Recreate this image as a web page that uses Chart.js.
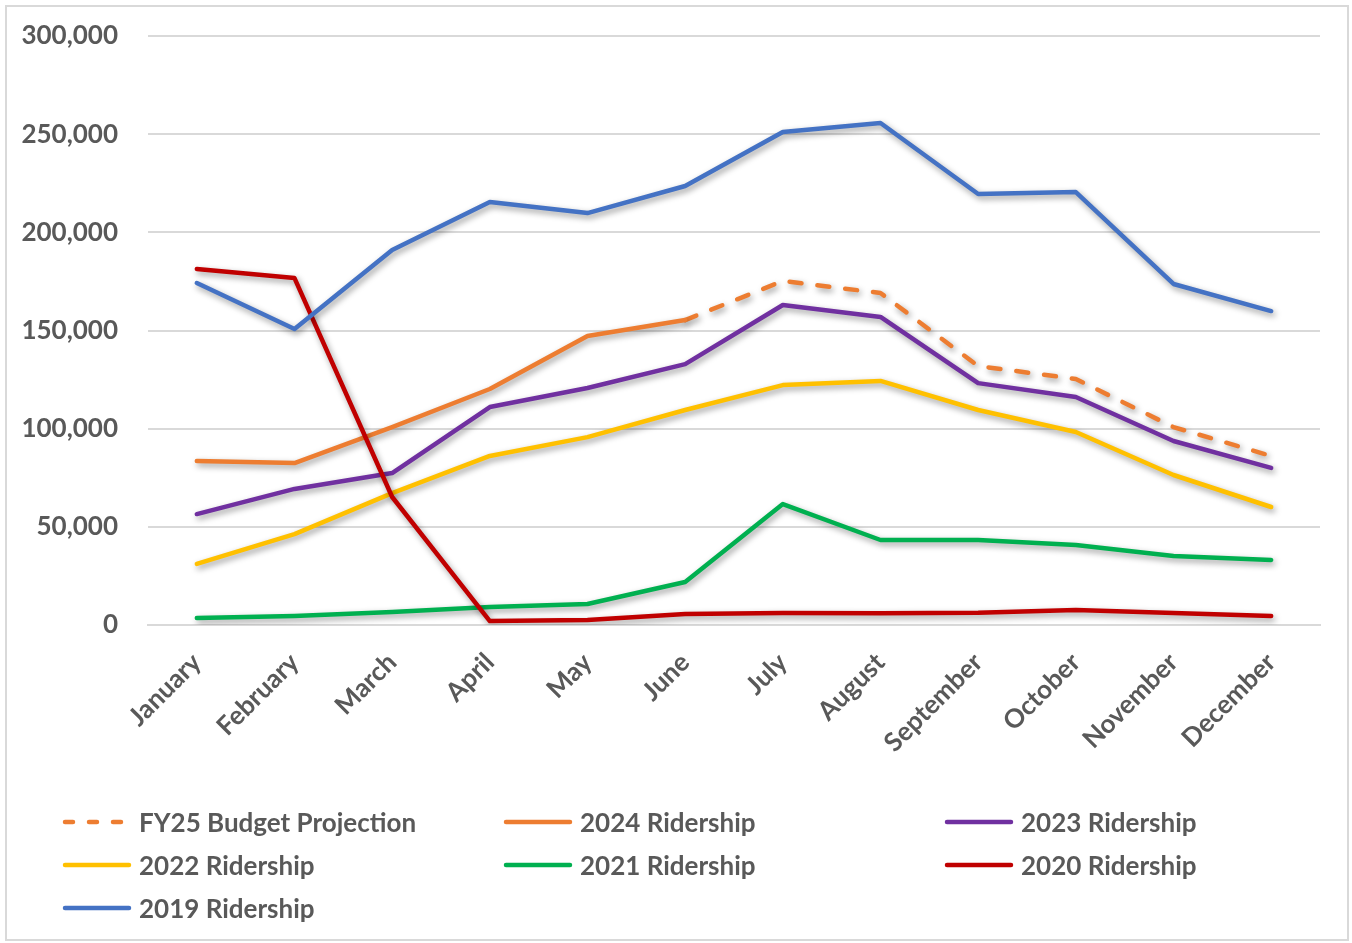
<!DOCTYPE html>
<html>
<head>
<meta charset="utf-8">
<script src="https://cdn.jsdelivr.net/npm/chart.js@4/dist/chart.umd.min.js"></script>
<style>
  html, body { margin: 0; padding: 0; background: #fff; }
  #wrap { position: relative; width: 1352px; height: 943px; }
  #frame { position: absolute; left: 5px; top: 5px; width: 1340px; height: 932px; border: 2px solid #d9d9d9; pointer-events: none; }
  canvas { position: absolute; left: 0; top: 0; }
  #legend { position: absolute; left: 62px; top: 800px; display: grid; grid-template-columns: 441px 441px 400px; grid-auto-rows: 43px; }
  .item { display: flex; align-items: center; font-family: Lato, "Open Sans", sans-serif; font-weight: bold; font-size: 26px; color: #595959; white-space: nowrap; }
  .swatch { width: 70px; height: 8px; margin-right: 7px; }
</style>
</head>
<body>
<div id="wrap">
  <canvas id="c" width="1352" height="943"></canvas>
  <div id="frame"></div>
  <div id="legend"></div>
</div>
<script>
const months = ["January","February","March","April","May","June","July","August","September","October","November","December"];
const fy25Projection = [null, null, null, null, null, 155300, 175200, 169100, 131900, 125300, 100800, 86100];
const ridership2024 = [83500, 82500, 100800, 120200, 147200, 155300, null, null, null, null, null, null];
const ridership2023 = [56500, 69300, 77400, 111000, 120700, 132900, 163000, 156900, 123200, 116100, 93700, 80000];
const ridership2022 = [31100, 46300, 67200, 86100, 95700, 109500, 122200, 124300, 109500, 98300, 76400, 60100];
const ridership2021 = [3600, 4600, 6600, 9200, 10700, 21900, 61600, 43300, 43300, 40700, 35100, 33100];
const ridership2020 = [181300, 176700, 65200, 2000, 2500, 5600, 6100, 6000, 6200, 7600, 6100, 4600];
const ridership2019 = [174200, 150800, 191000, 215400, 209800, 223600, 251100, 255700, 219500, 220500, 173700, 159900];
const yTicks = [0, 50000, 100000, 150000, 200000, 250000, 300000];

const seriesNames = ["FY25 Budget Projection","2024 Ridership","2023 Ridership","2022 Ridership","2021 Ridership","2020 Ridership","2019 Ridership"];
const seriesData = [fy25Projection, ridership2024, ridership2023, ridership2022, ridership2021, ridership2020, ridership2019];
const seriesColors = ["#ED7D31","#ED7D31","#7030A0","#FFC000","#00B050","#C00000","#4472C4"];

const datasets = seriesNames.map((name, i) => ({
  label: name,
  data: seriesData[i],
  borderColor: seriesColors[i],
  backgroundColor: seriesColors[i],
  borderWidth: 4.5,
  borderDash: i === 0 ? [12, 16] : [],
  borderCapStyle: 'round',
  borderJoinStyle: 'round',
  pointRadius: 0,
  pointHoverRadius: 0,
  tension: 0,
  fill: false,
  spanGaps: false,
  order: 7 - i
}));

const shadowPlugin = {
  id: 'shadow',
  beforeDatasetDraw(chart) {
    const ctx = chart.ctx;
    ctx.save();
    ctx.shadowColor = 'rgba(0,0,0,0.4)';
    ctx.shadowBlur = 6;
    ctx.shadowOffsetX = 2;
    ctx.shadowOffsetY = 3;
  },
  afterDatasetDraw(chart) {
    chart.ctx.restore();
  }
};

const font = { family: 'Lato, "Open Sans", sans-serif', weight: 'bold', size: 26 };

const chart = new Chart(document.getElementById('c'), {
  type: 'line',
  data: { labels: months, datasets },
  options: {
    responsive: false,
    animation: false,
    events: [],
    layout: { padding: { top: 36, right: 32, left: 0, bottom: 0 } },
    plugins: { legend: { display: false }, tooltip: { enabled: false } },
    scales: {
      x: {
        offset: true,
        grid: { display: false, drawTicks: false },
        border: { display: true, color: '#d9d9d9', width: 2 },
        ticks: { color: '#595959', font, maxRotation: 45, minRotation: 45, padding: 22, autoSkip: false },
        afterFit(scale) { scale.height = 318; }
      },
      y: {
        min: 0, max: 300000,
        afterBuildTicks(scale) { scale.ticks = yTicks.map(v => ({ value: v })); },
        grid: { color: '#d9d9d9', lineWidth: 2, drawTicks: false },
        border: { display: false },
        ticks: {
          color: '#595959', font, padding: 30,
          callback: v => v.toLocaleString('en-US')
        },
        afterFit(scale) { scale.width = 148; scale.paddingTop = 0; scale.paddingBottom = 0; }
      }
    }
  },
  plugins: [shadowPlugin]
});

const legend = document.getElementById('legend');
chart.data.datasets.forEach(ds => {
  const item = document.createElement('div');
  item.className = 'item';
  const sw = document.createElement('canvas');
  sw.className = 'swatch';
  sw.width = 70; sw.height = 8;
  sw.style.position = 'static';
  const c = sw.getContext('2d');
  c.strokeStyle = ds.borderColor;
  c.lineWidth = 4.5;
  c.lineCap = 'round';
  c.setLineDash(ds.borderDash.length ? [8, 16] : []);
  c.beginPath(); c.moveTo(3, 4); c.lineTo(67, 4); c.stroke();
  const t = document.createElement('span');
  t.textContent = ds.label;
  item.appendChild(sw); item.appendChild(t);
  legend.appendChild(item);
});
</script>
</body>
</html>
